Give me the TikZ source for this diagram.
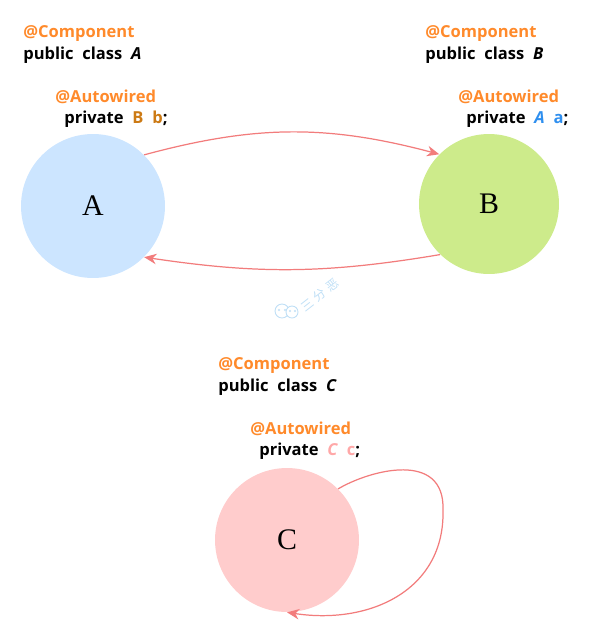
\documentclass[tikz,border=0pt]{standalone}
\usepackage{fontspec}
\setsansfont{Open Sans}
\newfontfamily\beanfont{Liberation Serif}
\newfontfamily\cjkmark{Noto Sans CJK SC}
\usetikzlibrary{arrows.meta,shapes}
\definecolor{annot}{HTML}{FF8A2B}
\definecolor{link}{HTML}{F27C7C}
\definecolor{blueA}{HTML}{CCE5FF}
\definecolor{greenB}{HTML}{CDEB8B}
\definecolor{pinkC}{HTML}{FFCCCC}
\definecolor{typeB}{HTML}{CC7A14}
\definecolor{typeA}{HTML}{2F8FEF}
\definecolor{typeC}{HTML}{FFA8A8}
\definecolor{wmark}{HTML}{BFDFF6}
\newcommand{\codefont}{\sffamily\bfseries\fontsize{9.4}{12}\selectfont\spaceskip=5pt\relax}
\tikzstyle{code}=[anchor=west, inner sep=0pt, font=\codefont]
\tikzstyle{note}=[code, text=annot]
\tikzstyle{bean}=[circle, inner sep=0pt, minimum size=2.88cm, font=\beanfont\fontsize{17}{20}\selectfont]
\tikzstyle{dep}=[-{Stealth[length=7pt,width=6pt]}, draw=link, line width=0.7pt]
\tikzstyle{bubble}=[circle, draw=wmark, fill=white, inner sep=0pt, line width=0.5pt]
\begin{document}
\begin{tikzpicture}[x=0.02cm, y=-0.02cm]
\useasboundingbox (0,0) rectangle (597,632);
\node[note] (cA) at (23,34) {@Component};
\node[code] (pA) at (23,55) {public class \textit{A}};
\node[note] (wA) at (55,97) {@Autowired};
\node[code] (fA) at (64,119) {private \textcolor{typeB}{B b};};
\node[note] (cB) at (425,34) {@Component};
\node[code] (pB) at (425,55) {public class \textit{B}};
\node[note] (wB) at (458,97) {@Autowired};
\node[code] (fB) at (466,119) {private \textcolor{typeA}{\textit{A} a};};
\node[note] (cC) at (218,365) {@Component};
\node[code] (pC) at (218,387) {public class \textit{C}};
\node[note] (wC) at (250,429) {@Autowired};
\node[code] (fC) at (259,451) {private \textcolor{typeC}{\textit{C} c};};
\node[bean, fill=blueA] (A) at (93,206) {A};
\node[bean, fill=greenB, minimum size=2.8cm] (B) at (489,204) {B};
\node[bean, fill=pinkC] (C) at (287,540) {C};
\draw[dep] (A.45) to [bend left=15] (B.135);
\draw[dep] (B.226) to [bend left=9] (A.-45);
\draw[dep] (C.45) .. controls (370,470) and (445,450) .. (443,510) .. controls (445,590) and (370,625) .. (C.-90);
% watermark
\node[bubble, minimum size=0.28cm] (wx1) at (282,311) {};
\node[bubble, minimum size=0.24cm] (wx2) at (292,312) {};
\foreach \px/\py in {279/310,285/310,290/311,295/311}
  \fill[wmark] (\px,\py) circle (0.6pt);
\node[rotate=38, text=wmark, font=\cjkmark\fontsize{7}{8}\selectfont, inner sep=0pt] (wm) at (320,295) {三\hspace{2.2pt}分\hspace{2.2pt}恶};
\end{tikzpicture}
\end{document}
